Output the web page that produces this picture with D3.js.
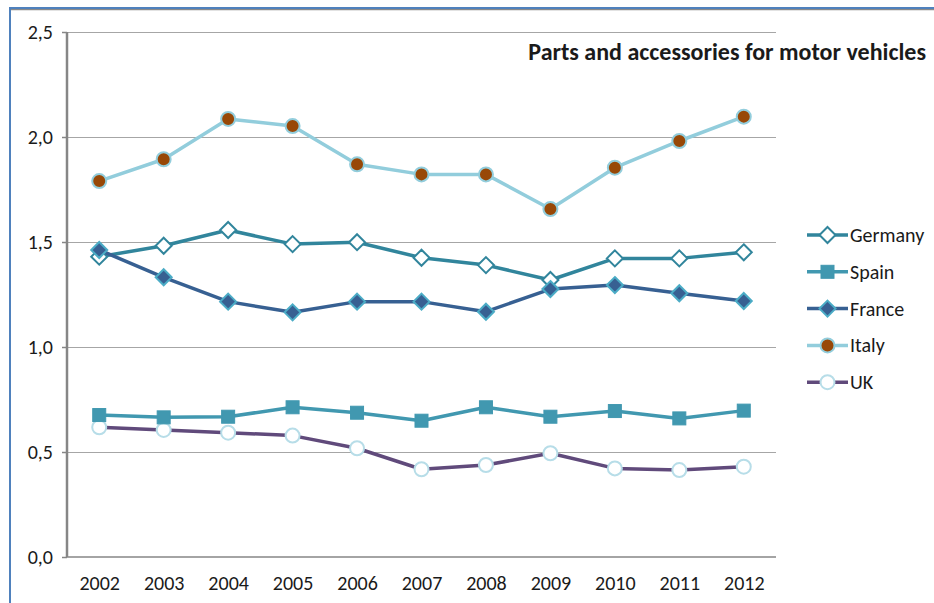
<!DOCTYPE html>
<html>
<head>
<meta charset="utf-8">
<script src="https://cdn.jsdelivr.net/npm/d3@7"></script>
<style>
  html, body { margin: 0; padding: 0; background: #fff; }
  svg { display: block; }
  text { font-family: Carlito, Lato, "Open Sans", sans-serif; fill: #1a1a1a; }
</style>
</head>
<body>
<svg id="chart" width="934" height="603"></svg>
<script>
const years = ["2002","2003","2004","2005","2006","2007","2008","2009","2010","2011","2012"];
const germany = [1.43, 1.482, 1.557, 1.49, 1.499, 1.425, 1.39, 1.319, 1.422, 1.422, 1.451];
const spain   = [0.676, 0.665, 0.668, 0.713, 0.687, 0.649, 0.713, 0.668, 0.695, 0.66, 0.697];
const france  = [1.462, 1.332, 1.216, 1.165, 1.216, 1.216, 1.168, 1.276, 1.295, 1.256, 1.219];
const italy   = [1.79, 1.894, 2.086, 2.052, 1.87, 1.822, 1.822, 1.657, 1.854, 1.981, 2.097];
const uk      = [0.618, 0.605, 0.592, 0.578, 0.518, 0.418, 0.438, 0.494, 0.422, 0.414, 0.43];
const yTicks  = [0, 0.5, 1.0, 1.5, 2.0, 2.5];
const title   = "Parts and accessories for motor vehicles";

const series = [
  { name: "Germany", values: germany, line: "#31859C", marker: "diamond", fill: "#ffffff", stroke: "#31859C" },
  { name: "Spain",   values: spain,   line: "#4198B0", marker: "square",  fill: "#4198B0", stroke: "#4198B0" },
  { name: "France",  values: france,  line: "#376092", marker: "diamond", fill: "#376092", stroke: "#4BACC6" },
  { name: "Italy",   values: italy,   line: "#92CDDC", marker: "circle",  fill: "#984807", stroke: "#92CDDC" },
  { name: "UK",      values: uk,      line: "#604A7B", marker: "circle",  fill: "#ffffff", stroke: "#B7DDE8" }
];

const FONT = "Carlito, Lato, 'Open Sans', sans-serif";
const svg = d3.select("#chart");

// frame
svg.append("line").attr("x1", 10).attr("x2", 934).attr("y1", 9.5).attr("y2", 9.5)
  .attr("stroke", "#8a8a8a").attr("stroke-width", 1.5);
svg.append("line").attr("x1", 10).attr("x2", 934).attr("y1", 8).attr("y2", 8)
  .attr("stroke", "#4F81BD").attr("stroke-width", 2);
svg.append("line").attr("x1", 10).attr("x2", 10).attr("y1", 7).attr("y2", 603)
  .attr("stroke", "#4F81BD").attr("stroke-width", 2);

const mLeft = 67, mRight = 776, mTop = 32, mBottom = 557;
const x = d3.scalePoint().domain(years).range([mLeft, mRight]).padding(0.5);
const y = d3.scaleLinear().domain([0, 2.5]).range([mBottom, mTop]);

// gridlines
svg.append("g").selectAll("line").data(yTicks.filter(d => d > 0)).join("line")
  .attr("x1", mLeft).attr("x2", mRight)
  .attr("y1", d => Math.round(y(d)) + 0.5).attr("y2", d => Math.round(y(d)) + 0.5)
  .attr("stroke", "#a6a6a6").attr("stroke-width", 1);

// y axis
const yAxis = d3.axisLeft(y).tickValues(yTicks).tickSize(5).tickPadding(9)
  .tickFormat(d => d3.format(".1f")(d).replace(".", ","));
const gy = svg.append("g").attr("transform", `translate(${mLeft},0)`).call(yAxis);
gy.select(".domain").attr("stroke", "#868686").attr("stroke-width", 2.5).attr("d", `M0,${mTop}V${mBottom}`);
gy.selectAll(".tick line").attr("stroke", "#868686").attr("stroke-width", 1.5);
gy.selectAll(".tick text").attr("font-size", 20).attr("fill", "#1a1a1a").style("font-family", FONT);

// x axis
const xAxis = d3.axisBottom(x).tickSize(0).tickPadding(19);
const gx = svg.append("g").attr("transform", `translate(0,${mBottom})`).call(xAxis);
gx.select(".domain").attr("stroke", "#868686").attr("stroke-width", 1.5).attr("d", `M${mLeft},0H${mRight}`);
gx.selectAll(".tick text").attr("font-size", 20).attr("fill", "#1a1a1a").style("font-family", FONT);

// lines
const lineGen = d3.line().x((d, i) => x(years[i])).y(d => y(d));

function drawMarker(g, s, cx, cy) {
  if (s.marker === "circle") {
    g.append("circle").attr("cx", cx).attr("cy", cy).attr("r", 7)
      .attr("fill", s.fill).attr("stroke", s.stroke).attr("stroke-width", 2);
  } else if (s.marker === "square") {
    g.append("rect").attr("x", cx - 6.5).attr("y", cy - 6.5).attr("width", 13).attr("height", 13)
      .attr("fill", s.fill).attr("stroke", s.stroke).attr("stroke-width", 1);
  } else {
    const r = 8;
    g.append("path").attr("d", `M${cx},${cy - r}L${cx + r},${cy}L${cx},${cy + r}L${cx - r},${cy}Z`)
      .attr("fill", s.fill).attr("stroke", s.stroke).attr("stroke-width", 2);
  }
}

const drawOrder = ["Italy", "UK", "Spain", "Germany", "France"];
drawOrder.forEach(name => {
  const s = series.find(d => d.name === name);
  const g = svg.append("g");
  g.append("path").datum(s.values).attr("d", lineGen)
    .attr("fill", "none").attr("stroke", s.line).attr("stroke-width", 3.5)
    .attr("stroke-linejoin", "round");
  s.values.forEach((v, i) => drawMarker(g, s, x(years[i]), y(v)));
});

// title
svg.append("text").attr("x", 926).attr("y", 59.5).attr("text-anchor", "end")
  .attr("font-size", 24).attr("font-weight", "bold").attr("fill", "#000").text(title);

// legend
const lg = svg.append("g");
series.forEach((s, i) => {
  const cy = 235 + i * 36.8;
  const g = lg.append("g");
  g.append("line").attr("x1", 807).attr("x2", 848).attr("y1", cy).attr("y2", cy)
    .attr("stroke", s.line).attr("stroke-width", 3.5);
  drawMarker(g, s, 827.5, cy);
  g.append("text").attr("x", 850).attr("y", cy).attr("dy", "0.35em")
    .attr("font-size", 20).text(s.name);
});
</script>
</body>
</html>
